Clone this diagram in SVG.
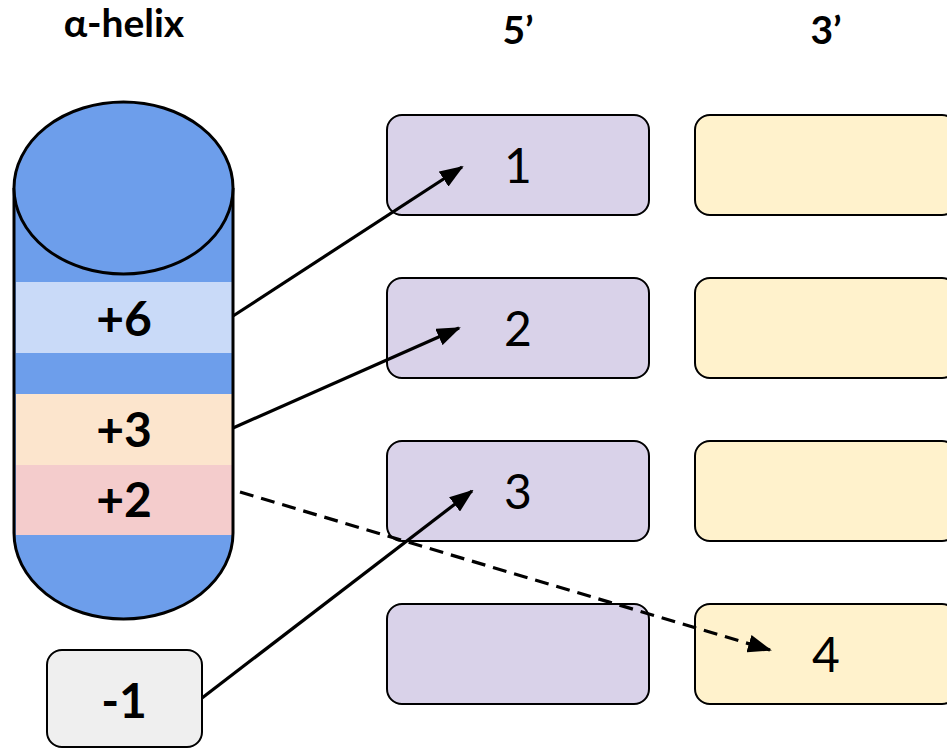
<svg xmlns="http://www.w3.org/2000/svg" width="947" height="749" viewBox="0 0 947 749">
<defs>
<style>
.hdr{font-family:Lato,"Liberation Sans",sans-serif;font-weight:bold;font-size:39px;text-anchor:middle;fill:#000}
.lblB{font-family:Lato,"Liberation Sans",sans-serif;font-weight:bold;font-size:48px;text-anchor:middle;fill:#000}
.lbl{font-family:Lato,"Liberation Sans",sans-serif;font-size:48px;text-anchor:middle;fill:#000}
.p{fill:#d9d2e9;stroke:#000;stroke-width:2}
.y{fill:#fff2cc;stroke:#000;stroke-width:2}
.g{fill:#efefef;stroke:#000;stroke-width:2}
.c{fill:none;stroke:#000;stroke-width:3.2}
.d{stroke-dasharray:14 8}
</style>
<marker id="ah" markerUnits="userSpaceOnUse" markerWidth="24" markerHeight="18" viewBox="0 0 24 18" refX="22" refY="9" orient="auto">
<path d="M0,0 L24,9 L0,18 z" fill="#000"/>
</marker>
</defs>

<g id="titles">
<text class="hdr" x="124" y="37">α-helix</text>
<text class="hdr" x="518" y="44">5’</text>
<text class="hdr" x="826" y="44">3’</text>
</g>

<g id="helix">
<path d="M14,188 L14,533 A109.5,86 0 0 0 233,533 L233,188 z" fill="#6d9eeb"/>
<rect x="16" y="282" width="216" height="71" fill="#c9daf8"/>
<rect x="16" y="394" width="216" height="71" fill="#fce5cd"/>
<rect x="16" y="465" width="216" height="70" fill="#f4cccc"/>
<path d="M14,188 L14,533 A109.5,86 0 0 0 233,533 L233,188" fill="none" stroke="#000" stroke-width="3"/>
<ellipse cx="123.5" cy="188" rx="109.5" ry="86" fill="#6d9eeb" stroke="#000" stroke-width="3"/>
<text class="lblB" x="124" y="336">+6</text>
<text class="lblB" x="124" y="447">+3</text>
<text class="lblB" x="124" y="517">+2</text>
</g>

<g id="node-minus1">
<rect class="g" x="47" y="650" width="155" height="97" rx="15"/>
<text class="lblB" x="124" y="718">-1</text>
</g>

<g id="p1"><rect class="p" x="387" y="115" width="262" height="100" rx="15"/><text class="lbl" x="518" y="183">1</text></g>
<g id="p2"><rect class="p" x="387" y="278" width="262" height="100" rx="15"/><text class="lbl" x="518" y="346">2</text></g>
<g id="p3"><rect class="p" x="387" y="441" width="262" height="100" rx="15"/><text class="lbl" x="518" y="509">3</text></g>
<g id="p4"><rect class="p" x="387" y="604" width="262" height="100" rx="15"/></g>

<g id="y1"><rect class="y" x="695" y="115" width="262" height="100" rx="15"/></g>
<g id="y2"><rect class="y" x="695" y="278" width="262" height="100" rx="15"/></g>
<g id="y3"><rect class="y" x="695" y="441" width="262" height="100" rx="15"/></g>
<g id="y4"><rect class="y" x="695" y="604" width="262" height="100" rx="15"/><text class="lbl" x="826" y="672">4</text></g>

<g id="connectors">
<line class="c" x1="233" y1="316" x2="462" y2="167" marker-end="url(#ah)"/>
<line class="c" x1="233" y1="428" x2="459" y2="328" marker-end="url(#ah)"/>
<line class="c" x1="202" y1="698" x2="472" y2="491" marker-end="url(#ah)"/>
<line class="c d" x1="240" y1="492" x2="770" y2="650" marker-end="url(#ah)"/>
</g>
</svg>
